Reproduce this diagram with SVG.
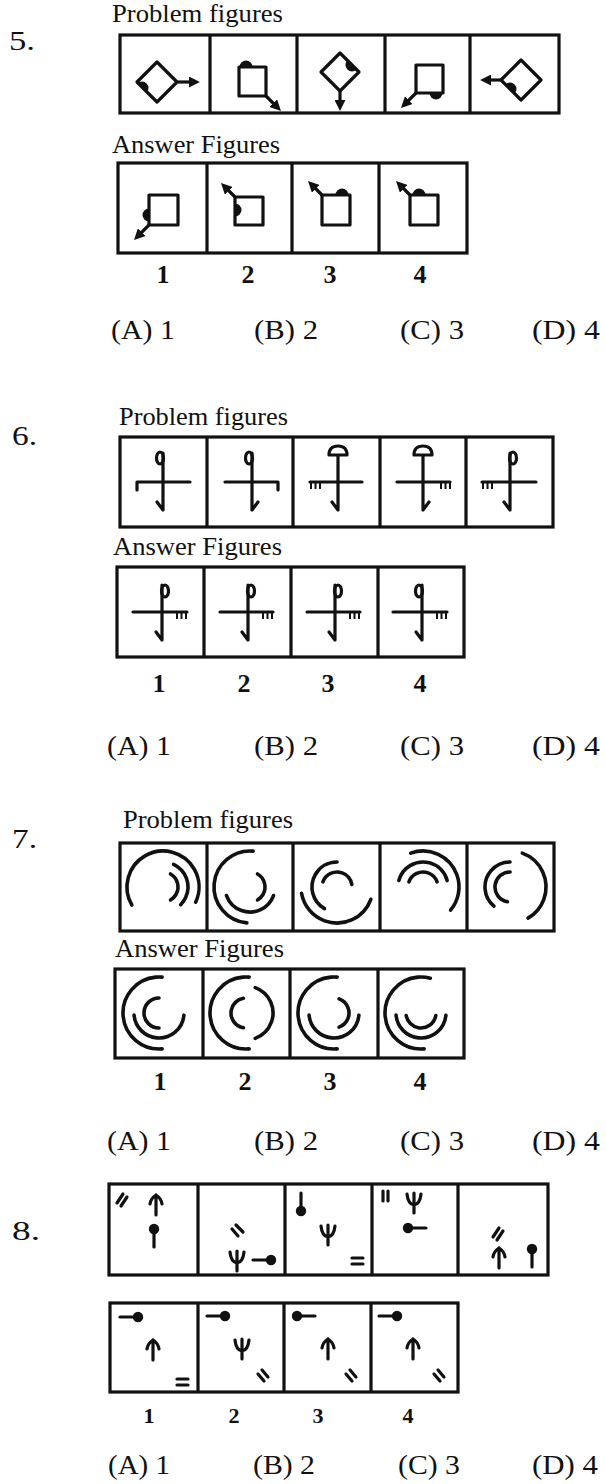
<svg xmlns="http://www.w3.org/2000/svg" width="606" height="1484" viewBox="0 0 606 1484">
<style>
.t{font-family:"Liberation Serif","Times New Roman",serif;fill:#111}
.lbl{font-size:25px}
.qn{font-size:28px}
.opt{font-size:27px}
.num{font-size:26px;font-weight:bold;text-anchor:middle}
.box{fill:none;stroke:#111;stroke-width:3.2}
.s{fill:none;stroke:#111;stroke-width:3.2;stroke-linecap:round;stroke-linejoin:round}
.thin{fill:none;stroke:#111;stroke-width:2;stroke-linecap:butt}
.arc{fill:none;stroke:#111;stroke-width:3.6;stroke-linecap:round}
.f{fill:#111}
.ar{fill:none;stroke:#111;stroke-width:3.2;marker-end:url(#ah)}
</style>
<defs>
<marker id="ah" viewBox="0 0 10 10" refX="1" refY="5" markerWidth="11" markerHeight="11" markerUnits="userSpaceOnUse" orient="auto"><path d="M0,0 L10,5 L0,10 Z" fill="#111"/></marker>
<path id="blob" d="M-6.5,0 A6.5,6.5 0 0 1 6.5,0 Z" fill="#111"/>
<path id="up" class="s" d="M0,10 V-9 M-6,-1 Q-5,-7 0,-10 M6,-1 Q5,-7 0,-10"/>
<path id="psi" class="s" d="M0,-10 V10 M-7,-9 Q-6,1 0,2 M7,-9 Q6,1 0,2"/>
<g id="bs"><circle r="5.2" class="f"/><path class="s" d="M3,0 H18"/></g>
</defs>

<!-- ============ Question 5 ============ -->
<g id="q5">
<text class="t qn" x="9" y="50" textLength="26" lengthAdjust="spacingAndGlyphs">5.</text>
<text class="t lbl" x="112" y="22" textLength="171" lengthAdjust="spacingAndGlyphs">Problem figures</text>
<g id="q5-problem">
<rect class="box" x="120" y="35" width="439" height="78"/>
<path class="box" d="M210,35 V113 M297,35 V113 M385,35 V113 M470,35 V113"/>
<g id="q5-p1"><polygon class="s" points="137,82 157,62 177,82 157,102"/><use href="#blob" transform="translate(142,88) rotate(45)"/><path class="ar" d="M178,82 H190"/></g>
<g id="q5-p2"><rect class="s" x="239" y="67" width="27" height="29"/><use href="#blob" transform="translate(246,67)"/><path class="ar" d="M266,96 L274,104"/></g>
<g id="q5-p3"><polygon class="s" points="321,72 340,53 359,72 340,91"/><use href="#blob" transform="translate(352,65) rotate(225)"/><path class="ar" d="M340,91 V101"/></g>
<g id="q5-p4"><rect class="s" x="416" y="65" width="27" height="28"/><use href="#blob" transform="translate(436,93) rotate(180)"/><path class="ar" d="M416,93 L408,101"/></g>
<g id="q5-p5"><polygon class="s" points="501,80 521,60 541,80 521,100"/><use href="#blob" transform="translate(510,89) rotate(45)"/><path class="ar" d="M501,80 H490"/></g>
</g>
<text class="t lbl" x="112" y="153" textLength="168" lengthAdjust="spacingAndGlyphs">Answer Figures</text>
<g id="q5-answer">
<rect class="box" x="118" y="163" width="349" height="90"/>
<path class="box" d="M207,163 V253 M292,163 V253 M379,163 V253"/>
<g id="q5-a1"><rect class="s" x="149" y="195" width="29" height="30"/><use href="#blob" transform="translate(149,215) rotate(-90)"/><path class="ar" d="M149,225 L141,233"/></g>
<g id="q5-a2"><rect class="s" x="235" y="197" width="28" height="28"/><use href="#blob" transform="translate(235,210) rotate(90)"/><path class="ar" d="M235,197 L228,190"/></g>
<g id="q5-a3"><rect class="s" x="322" y="195" width="28" height="30"/><use href="#blob" transform="translate(342,195)"/><path class="ar" d="M322,195 L315,188"/></g>
<g id="q5-a4"><rect class="s" x="410" y="195" width="28" height="30"/><use href="#blob" transform="translate(419,195)"/><path class="ar" d="M410,195 L403,188"/></g>
</g>
<text class="t num" x="163" y="283">1</text><text class="t num" x="248" y="283">2</text><text class="t num" x="330" y="283">3</text><text class="t num" x="420" y="283">4</text>
<text class="t opt" x="111" y="339" textLength="64" lengthAdjust="spacingAndGlyphs">(A) 1</text>
<text class="t opt" x="254" y="339" textLength="64" lengthAdjust="spacingAndGlyphs">(B) 2</text>
<text class="t opt" x="400" y="339" textLength="64" lengthAdjust="spacingAndGlyphs">(C) 3</text>
<text class="t opt" x="532" y="339" textLength="68" lengthAdjust="spacingAndGlyphs">(D) 4</text>
</g>

<!-- ============ Question 6 ============ -->
<g id="q6">
<text class="t qn" x="12" y="445" textLength="25" lengthAdjust="spacingAndGlyphs">6.</text>
<text class="t lbl" x="119" y="425" textLength="169" lengthAdjust="spacingAndGlyphs">Problem figures</text>
<g id="q6-problem">
<rect class="box" x="120" y="437" width="433" height="90"/>
<path class="box" d="M207,437 V527 M293,437 V527 M380,437 V527 M466,437 V527"/>
<g id="q6-p1" class="s"><path d="M163,453 V510 M137,482 H190 M137,482 V490 M163,510 L157,502"/><ellipse cx="160" cy="458" rx="3.5" ry="6"/></g>
<g id="q6-p2" class="s"><path d="M252,453 V510 M225,482 H278 M278,482 V490 M252,510 L258,502"/><ellipse cx="249" cy="458" rx="3.5" ry="6"/></g>
<g id="q6-p3"><path class="s" d="M329,455 Q329,446 338,446 Q347,446 347,455 Z M338,455 V510 M310,482 H362 M338,510 L332,502"/><path class="thin" d="M311,482 V489 M315.5,482 V489 M320,482 V489"/></g>
<g id="q6-p4"><path class="s" d="M414,455 Q414,446 423,446 Q432,446 432,455 Z M423,455 V510 M397,482 H450 M423,510 L429,502"/><path class="thin" d="M441,482 V489 M445.5,482 V489 M450,482 V489"/></g>
<g id="q6-p5"><path class="s" d="M510,453 V510 M482,482 H536 M510,510 L504,502"/><ellipse class="s" cx="513" cy="458" rx="3.5" ry="6"/><path class="thin" d="M483,482 V489 M487.5,482 V489 M492,482 V489"/></g>
</g>
<text class="t lbl" x="113" y="555" textLength="169" lengthAdjust="spacingAndGlyphs">Answer Figures</text>
<g id="q6-answer">
<rect class="box" x="117" y="567" width="347" height="90"/>
<path class="box" d="M204,567 V657 M291,567 V657 M378,567 V657"/>
<g id="q6-a1"><path class="s" d="M162,585 V640 M133,612 H187 M162,640 L156,632"/><ellipse class="s" cx="165" cy="591" rx="3.5" ry="6"/><path class="thin" d="M177,612 V619 M181.5,612 V619 M186,612 V619"/></g>
<g id="q6-a2"><path class="s" d="M248,585 V640 M220,612 H273 M248,640 L242,632"/><ellipse class="s" cx="251" cy="591" rx="3.5" ry="6"/><path class="thin" d="M263,612 V619 M267.5,612 V619 M272,612 V619"/></g>
<g id="q6-a3"><path class="s" d="M335,585 V640 M307,612 H360 M335,640 L329,632"/><ellipse class="s" cx="338" cy="591" rx="3.5" ry="6"/><path class="thin" d="M350,612 V619 M354.5,612 V619 M359,612 V619"/></g>
<g id="q6-a4"><path class="s" d="M422,585 V640 M393,612 H447 M422,640 L416,632"/><ellipse class="s" cx="419" cy="591" rx="3.5" ry="6"/><path class="thin" d="M437,612 V619 M441.5,612 V619 M446,612 V619"/></g>
</g>
<text class="t num" x="159" y="692">1</text><text class="t num" x="244" y="692">2</text><text class="t num" x="328" y="692">3</text><text class="t num" x="420" y="692">4</text>
<text class="t opt" x="107" y="755" textLength="64" lengthAdjust="spacingAndGlyphs">(A) 1</text>
<text class="t opt" x="254" y="755" textLength="64" lengthAdjust="spacingAndGlyphs">(B) 2</text>
<text class="t opt" x="400" y="755" textLength="64" lengthAdjust="spacingAndGlyphs">(C) 3</text>
<text class="t opt" x="532" y="755" textLength="68" lengthAdjust="spacingAndGlyphs">(D) 4</text>
</g>

<!-- ============ Question 7 ============ -->
<g id="q7">
<text class="t qn" x="12" y="848" textLength="25" lengthAdjust="spacingAndGlyphs">7.</text>
<text class="t lbl" x="123" y="828" textLength="170" lengthAdjust="spacingAndGlyphs">Problem figures</text>
<g id="q7-problem">
<rect class="box" x="120" y="843" width="434" height="88"/>
<path class="box" d="M207,843 V931 M293,843 V931 M380,843 V931 M467,843 V931"/>
<g id="q7-p1" class="arc">
<circle r="36" pathLength="360" stroke-dasharray="235 400" transform="translate(163,887) rotate(150)"/>
<circle r="25" pathLength="360" stroke-dasharray="110 400" transform="translate(163,887) rotate(295)"/>
<circle r="15" pathLength="360" stroke-dasharray="120 400" transform="translate(163,887) rotate(300)"/>
</g>
<g id="q7-p2" class="arc">
<circle r="36" pathLength="360" stroke-dasharray="180 400" transform="translate(250,887) rotate(95)"/>
<circle r="25" pathLength="360" stroke-dasharray="140 400" transform="translate(250,887) rotate(20)"/>
<circle r="15" pathLength="360" stroke-dasharray="120 400" transform="translate(250,887) rotate(300)"/>
</g>
<g id="q7-p3" class="arc">
<circle r="36" pathLength="360" stroke-dasharray="150 400" transform="translate(337,887) rotate(20)"/>
<circle r="25" pathLength="360" stroke-dasharray="150 400" transform="translate(337,887) rotate(120)"/>
<circle r="15" pathLength="360" stroke-dasharray="150 400" transform="translate(337,887) rotate(200)"/>
</g>
<g id="q7-p4" class="arc">
<circle r="36" pathLength="360" stroke-dasharray="150 400" transform="translate(423,887) rotate(250)"/>
<circle r="25" pathLength="360" stroke-dasharray="150 400" transform="translate(423,887) rotate(195)"/>
<circle r="15" pathLength="360" stroke-dasharray="140 400" transform="translate(423,887) rotate(200)"/>
</g>
<g id="q7-p5" class="arc">
<circle r="36" pathLength="360" stroke-dasharray="130 400" transform="translate(510,887) rotate(290)"/>
<circle r="25" pathLength="360" stroke-dasharray="140 400" transform="translate(510,887) rotate(130)"/>
<circle r="15" pathLength="360" stroke-dasharray="170 400" transform="translate(510,887) rotate(100)"/>
</g>
</g>
<text class="t lbl" x="115" y="957" textLength="169" lengthAdjust="spacingAndGlyphs">Answer Figures</text>
<g id="q7-answer">
<rect class="box" x="115" y="969" width="349" height="89"/>
<path class="box" d="M203,969 V1058 M290,969 V1058 M378,969 V1058"/>
<g id="q7-a1" class="arc">
<circle r="36" pathLength="360" stroke-dasharray="190 400" transform="translate(159,1013) rotate(85)"/>
<circle r="25" pathLength="360" stroke-dasharray="170 400" transform="translate(159,1013) rotate(5)"/>
<circle r="15" pathLength="360" stroke-dasharray="180 400" transform="translate(159,1013) rotate(90)"/>
</g>
<g id="q7-a2" class="arc">
<circle r="36" pathLength="360" stroke-dasharray="190 400" transform="translate(246,1013) rotate(85)"/>
<circle r="27" pathLength="360" stroke-dasharray="140 400" transform="translate(246,1013) rotate(290)"/>
<circle r="15" pathLength="360" stroke-dasharray="160 400" transform="translate(246,1013) rotate(100)"/>
</g>
<g id="q7-a3" class="arc">
<circle r="36" pathLength="360" stroke-dasharray="190 400" transform="translate(334,1013) rotate(85)"/>
<circle r="25" pathLength="360" stroke-dasharray="170 400" transform="translate(334,1013) rotate(5)"/>
<circle r="15" pathLength="360" stroke-dasharray="140 400" transform="translate(334,1013) rotate(290)"/>
</g>
<g id="q7-a4" class="arc">
<circle r="36" pathLength="360" stroke-dasharray="200 400" transform="translate(421,1013) rotate(85)"/>
<circle r="25" pathLength="360" stroke-dasharray="170 400" transform="translate(421,1013) rotate(5)"/>
<circle r="15" pathLength="360" stroke-dasharray="160 400" transform="translate(421,1013) rotate(10)"/>
</g>
</g>
<text class="t num" x="160" y="1090">1</text><text class="t num" x="245" y="1090">2</text><text class="t num" x="330" y="1090">3</text><text class="t num" x="420" y="1090">4</text>
<text class="t opt" x="107" y="1150" textLength="64" lengthAdjust="spacingAndGlyphs">(A) 1</text>
<text class="t opt" x="254" y="1150" textLength="64" lengthAdjust="spacingAndGlyphs">(B) 2</text>
<text class="t opt" x="400" y="1150" textLength="64" lengthAdjust="spacingAndGlyphs">(C) 3</text>
<text class="t opt" x="532" y="1150" textLength="68" lengthAdjust="spacingAndGlyphs">(D) 4</text>
</g>

<!-- ============ Question 8 ============ -->
<g id="q8">
<text class="t qn" x="12" y="1240" textLength="28" lengthAdjust="spacingAndGlyphs">8.</text>
<g id="q8-problem">
<rect class="box" x="109" y="1184" width="439" height="91"/>
<path class="box" d="M198,1184 V1275 M285,1184 V1275 M372,1184 V1275 M458,1184 V1275"/>
<g id="q8-p1"><path class="s" d="M117,1203 L123,1194 M121,1206 L127,1197"/><use href="#up" x="156" y="1205"/><use href="#bs" transform="translate(154,1229) rotate(90)"/></g>
<g id="q8-p2"><path class="s" d="M232,1229 L238,1236 M236,1225 L243,1232"/><use href="#psi" x="237" y="1261"/><use href="#bs" transform="translate(271,1260) rotate(180)"/></g>
<g id="q8-p3"><use href="#bs" transform="translate(301,1211) rotate(-90)"/><use href="#psi" x="328" y="1235"/><path class="s" d="M352,1258 H363 M352,1264 H363"/></g>
<g id="q8-p4"><path class="s" d="M383,1191 V1201 M388,1191 V1201"/><use href="#psi" x="414" y="1203"/><use href="#bs" transform="translate(408,1228)"/></g>
<g id="q8-p5"><path class="s" d="M493,1237 L499,1228 M497,1240 L503,1231"/><use href="#up" x="499" y="1258"/><use href="#bs" transform="translate(532,1249) rotate(90)"/></g>
</g>
<g id="q8-answer">
<rect class="box" x="110" y="1303" width="348" height="89"/>
<path class="box" d="M198,1303 V1392 M284,1303 V1392 M371,1303 V1392"/>
<g id="q8-a1"><use href="#bs" transform="translate(138,1317) rotate(180)"/><use href="#up" x="153" y="1350"/><path class="s" d="M177,1379 H188 M177,1385 H188"/></g>
<g id="q8-a2"><use href="#bs" transform="translate(225,1316) rotate(180)"/><use href="#psi" x="242" y="1349"/><path class="s" d="M258,1374 L264,1381 M262,1370 L268,1377"/></g>
<g id="q8-a3"><use href="#bs" transform="translate(297,1316)"/><use href="#up" x="328" y="1349"/><path class="s" d="M346,1374 L352,1381 M350,1370 L356,1377"/></g>
<g id="q8-a4"><use href="#bs" transform="translate(397,1316) rotate(180)"/><use href="#up" x="413" y="1349"/><path class="s" d="M434,1374 L440,1381 M438,1370 L444,1377"/></g>
</g>
<text class="t num" style="font-size:22px" x="149" y="1423">1</text><text class="t num" style="font-size:22px" x="234" y="1423">2</text><text class="t num" style="font-size:22px" x="318" y="1423">3</text><text class="t num" style="font-size:22px" x="408" y="1423">4</text>
<text class="t opt" x="108" y="1474" textLength="62" lengthAdjust="spacingAndGlyphs">(A) 1</text>
<text class="t opt" x="253" y="1474" textLength="62" lengthAdjust="spacingAndGlyphs">(B) 2</text>
<text class="t opt" x="398" y="1474" textLength="62" lengthAdjust="spacingAndGlyphs">(C) 3</text>
<text class="t opt" x="532" y="1474" textLength="66" lengthAdjust="spacingAndGlyphs">(D) 4</text>
</g>
</svg>
